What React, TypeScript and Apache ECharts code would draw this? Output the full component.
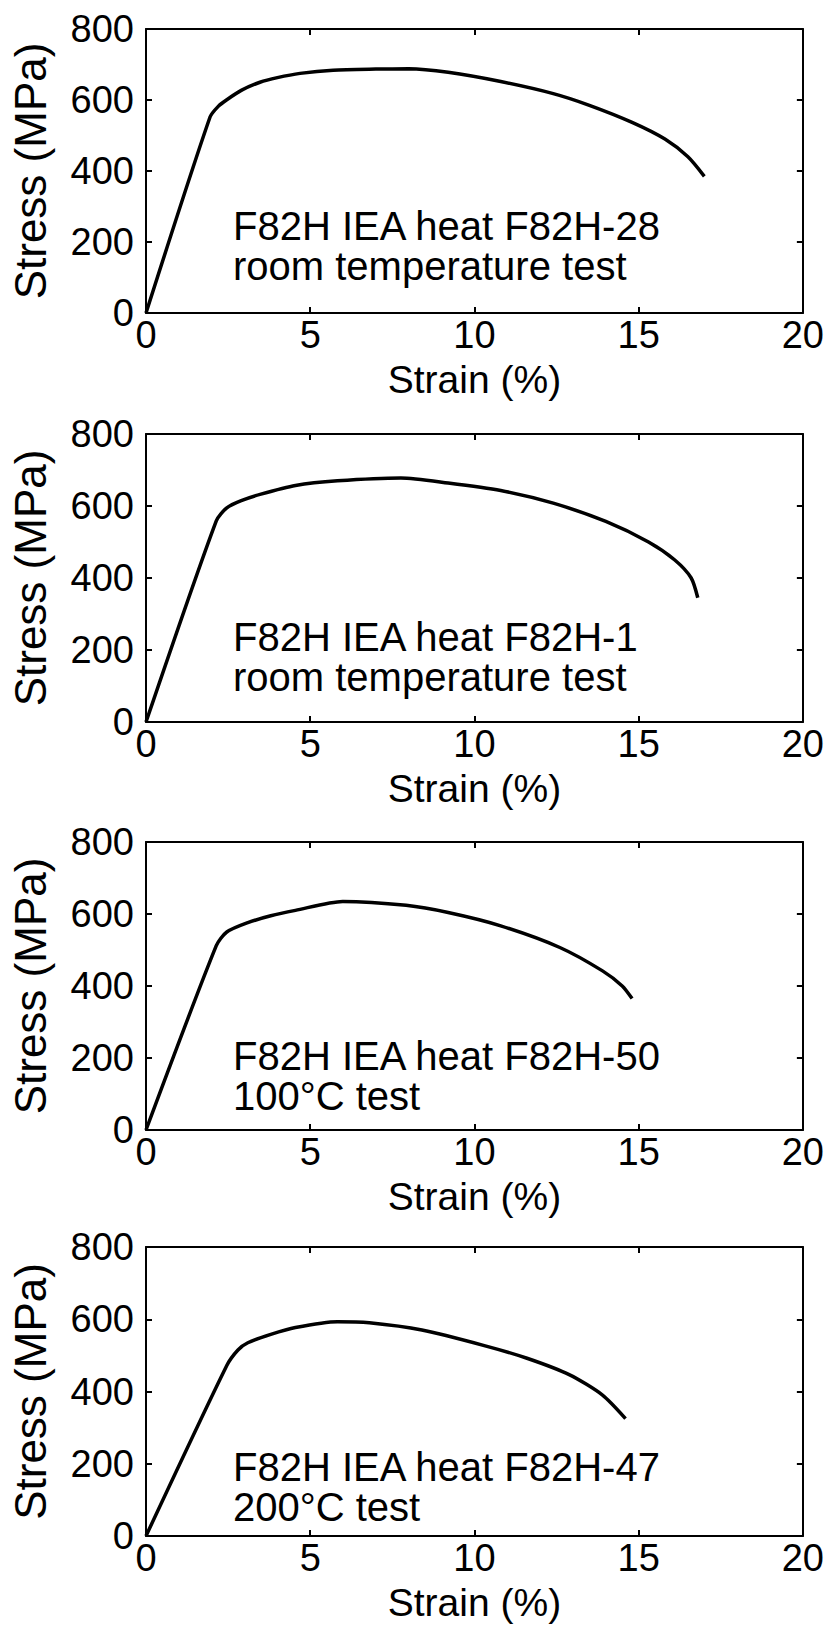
import React, { useEffect, useRef } from "react";
import * as echarts from "echarts";

const FONT = '"Liberation Sans", Arial, Helvetica, sans-serif';

// Strain (%) / Stress (MPa) curves
const curveF82H28: [number, number][] = [
  [0, 0], [1.95, 552], [2.2, 582], [2.45, 600], [2.9, 627], [3.47, 650], [4.0, 663],
  [4.69, 675], [5.7, 684], [7.0, 687], [8.0, 688], [9.2, 678],
  [10.8, 652], [12.4, 618], [13.5, 585], [14.8, 537], [15.8, 490], [16.5, 440], [17.0, 385],
];
const curveF82H1: [number, number][] = [
  [0, 0], [2.14, 559], [2.46, 595], [2.9, 615], [3.5, 633],
  [4.55, 657], [5.83, 670], [7.76, 678], [9.2, 664], [10.8, 643], [12.4, 608], [14.0, 557],
  [15.3, 500], [16.1, 450], [16.6, 400], [16.8, 345],
];
const curveF82H50: [number, number][] = [
  [0, 0], [2.14, 512], [2.46, 550], [3.1, 576], [3.8, 595],
  [4.55, 610], [5.99, 635], [7.92, 624], [9.2, 604], [10.8, 567], [12.6, 507], [13.9, 442],
  [14.5, 400], [14.8, 365],
];
const curveF82H47: [number, number][] = [
  [0, 0], [2.46, 472], [2.8, 515], [3.1, 535], [3.8, 558],
  [4.55, 577], [5.83, 593], [6.8, 590], [8.4, 570], [10.3, 527], [11.6, 492], [12.9, 446],
  [13.9, 390], [14.6, 325],
];

const curves = [curveF82H28, curveF82H1, curveF82H50, curveF82H47];

const labelLine1 = [
  "F82H IEA heat F82H-28",
  "F82H IEA heat F82H-1",
  "F82H IEA heat F82H-50",
  "F82H IEA heat F82H-47",
];
const labelLine2 = [
  "room temperature test",
  "room temperature test",
  "100°C test",
  "200°C test",
];

const xAxisName = "Strain (%)";
const yAxisName = "Stress (MPa)";

export default function App() {
  const ref = useRef<HTMLDivElement>(null);

  useEffect(() => {
    if (!ref.current) return;
    const chart = echarts.init(ref.current, undefined, { renderer: "svg" });

    const layout = [
      { top: 29, height: 284, textY: 226 },
      { top: 434, height: 288, textY: 637 },
      { top: 842, height: 288, textY: 1056 },
      { top: 1247, height: 289, textY: 1467 },
    ];
    const left = 146;
    const width = 658;
    const lineStyle = { color: "#000", width: 2 };

    const grid = layout.map((p) => ({ left, top: p.top, width, height: p.height, show: false }));
    const xAxis: any[] = [];
    const yAxis: any[] = [];
    layout.forEach((_, i) => {
      xAxis.push({
        gridIndex: i, type: "value", min: 0, max: 20, interval: 5, position: "bottom",
        axisLine: { show: true, onZero: false, lineStyle },
        axisTick: { show: true, inside: true, length: 6, lineStyle },
        axisLabel: { show: true, color: "#000", fontSize: 38, lineHeight: 30, fontFamily: FONT, margin: 7 },
        splitLine: { show: false },
        name: xAxisName, nameLocation: "middle", nameGap: 50, nameMoveOverlap: false,
        nameTextStyle: { color: "#000", fontSize: 39, lineHeight: 32, fontFamily: FONT },
      });
      xAxis.push({
        gridIndex: i, type: "value", min: 0, max: 20, interval: 5, position: "top",
        axisLine: { show: true, onZero: false, lineStyle },
        axisTick: { show: true, inside: true, length: 6, lineStyle },
        axisLabel: { show: false },
        splitLine: { show: false },
      });
      yAxis.push({
        gridIndex: i, type: "value", min: 0, max: 800, interval: 200, position: "left",
        axisLine: { show: true, onZero: false, lineStyle },
        axisTick: { show: true, inside: true, length: 6, lineStyle },
        axisLabel: { show: true, color: "#000", fontSize: 38, fontFamily: FONT, margin: 12 },
        splitLine: { show: false },
        name: yAxisName, nameLocation: "middle", nameGap: 94, nameRotate: 90, nameMoveOverlap: false,
        nameTextStyle: { color: "#000", fontSize: 44, fontFamily: FONT },
      });
      yAxis.push({
        gridIndex: i, type: "value", min: 0, max: 800, interval: 200, position: "right",
        axisLine: { show: true, onZero: false, lineStyle },
        axisTick: { show: true, inside: true, length: 6, lineStyle },
        axisLabel: { show: false },
        splitLine: { show: false },
      });
    });

    const series = curves.map((data, i) => ({
      type: "line",
      xAxisIndex: 2 * i,
      yAxisIndex: 2 * i,
      data,
      showSymbol: false,
      smooth: 0.25,
      lineStyle: { color: "#000", width: 3.5 },
      silent: true,
    }));

    const graphic: any[] = [];
    layout.forEach((p, i) => {
      graphic.push({
        type: "text", x: 233, y: p.textY,
        style: { text: labelLine1[i], fill: "#000", font: `40px ${FONT}`, textVerticalAlign: "middle" },
      });
      graphic.push({
        type: "text", x: 233, y: p.textY + 40,
        style: { text: labelLine2[i], fill: "#000", font: `40px ${FONT}`, textVerticalAlign: "middle" },
      });
    });

    chart.setOption({
      animation: false,
      backgroundColor: "#fff",
      grid,
      xAxis,
      yAxis,
      series,
      graphic,
    });

    return () => chart.dispose();
  }, []);

  return (
    <div
      ref={ref}
      style={{ position: "fixed", left: 0, top: 0, width: 827, height: 1635, background: "#fff" }}
    />
  );
}
